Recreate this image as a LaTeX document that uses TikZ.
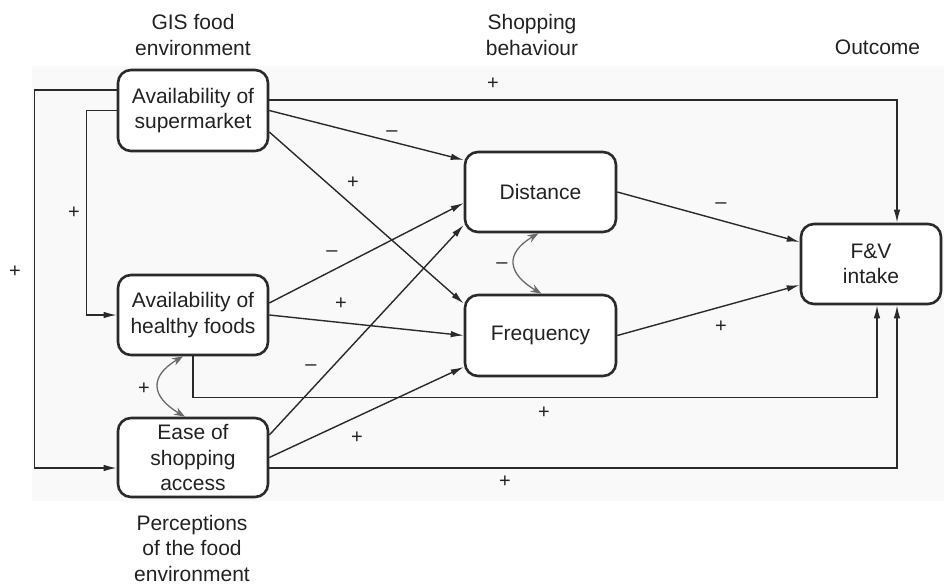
\documentclass[tikz,border=0pt]{standalone}
\usepackage{fontspec}
\setmainfont{Liberation Sans}
\usetikzlibrary{arrows.meta}
\definecolor{txt}{HTML}{222222}
\definecolor{ln}{HTML}{2A2A2A}
\definecolor{bg}{HTML}{F9F9F9}
\definecolor{cv}{HTML}{6A6A6A}
\begin{document}
\begin{tikzpicture}[x=1pt,y=-1pt,
  box/.style={draw=ln, line width=2.6pt, rounded corners=13pt, fill=white, text=txt,
    align=center, inner sep=0pt, font=\fontsize{21}{25.5}\selectfont},
  hdr/.style={text=txt, align=center, inner sep=0pt, font=\fontsize{21}{25.5}\selectfont},
  lbl/.style={text=txt, inner sep=0pt, font=\fontsize{20}{22}\selectfont},
  conn/.style={draw=ln, line width=1.4pt, -{Latex[length=13pt,width=6.5pt]}},
  cvd/.style={draw=cv, line width=1.3pt, {Stealth[length=11pt,width=8pt]}-{Stealth[length=11pt,width=8pt]}}
]
\useasboundingbox (0,0) rectangle (944,584);
\fill[bg] (32,66) rectangle (944,501);

% boxes
\node[box, minimum width=150pt, minimum height=81pt] (sup) at (193,110.5) {Availability of\\supermarket};
\node[box, minimum width=150pt, minimum height=80pt] (hea) at (193,315) {Availability of\\healthy foods};
\node[box, minimum width=150pt, minimum height=79pt] (eas) at (193,457.5) {Ease of\\shopping\\access};
\node[box, minimum width=151pt, minimum height=80pt] (dis) at (540.5,192) {Distance};
\node[box, minimum width=151pt, minimum height=81pt] (fre) at (540.5,335.5) {Frequency};
\node[box, minimum width=140pt, minimum height=80pt] (fv) at (871,264) {F\&V\\intake};

% headers
\node[hdr] (h1) at (193,35) {GIS food\\environment};
\node[hdr] (h2) at (532,35) {Shopping\\behaviour};
\node[hdr] (h3) at (877.5,47) {Outcome};
\node[hdr] (h4) at (192,548) {Perceptions\\of the food\\environment};

% connectors from supermarket
\draw[conn] ([yshift=10.5pt]sup.east) -| ([xshift=26pt]fv.north);
\draw[conn] (sup.east) -- ([yshift=32pt]dis.west);
\draw[conn] ([yshift=-21.5pt]sup.east) -- ([yshift=32pt]fre.west);
\draw[conn] ([yshift=20.5pt]sup.west) -- ++(-82,0) |- ([yshift=-10.5pt]eas.west);
\draw[conn] (sup.west) -- ++(-30,0) |- (hea.west);

% connectors from healthy foods
\draw[conn] ([yshift=12pt]hea.east) -- ([yshift=-11pt]dis.west);
\draw[conn] (hea.east) -- (fre.west);
\draw[conn] (hea.south) -- ++(0,41) -| ([xshift=6pt]fv.south);

% connectors from ease of shopping access
\draw[conn] ([yshift=22.5pt]eas.east) -- ([yshift=-33pt]dis.west);
\draw[conn] (eas.east) -- ([yshift=-31.5pt]fre.west);
\draw[conn] ([yshift=-10.5pt]eas.east) -| ([xshift=26pt]fv.south);

% shopping behaviour to outcome
\draw[conn] (dis.east) -- ([yshift=22pt]fv.west);
\draw[conn] (fre.east) -- ([yshift=-21pt]fv.west);

% correlations
\draw[cvd] ([xshift=-2pt]dis.south) .. controls +(-34,20) and +(-34,-20) .. ([xshift=1pt]fre.north);
\draw[cvd] ([xshift=-10pt]hea.south) .. controls +(-34,20) and +(-34,-20) .. ([xshift=-8pt]eas.north);

% signs
\node[lbl] (l1) at (493,84) {+};
\node[lbl] (l2) at (392,134) {–};
\node[lbl] (l3) at (353,183) {+};
\node[lbl] (l4) at (332,254) {–};
\node[lbl] (l5) at (341,304) {+};
\node[lbl] (l6) at (544,413) {+};
\node[lbl] (l7) at (311,368) {–};
\node[lbl] (l8) at (357,438) {+};
\node[lbl] (l9) at (505,482) {+};
\node[lbl] (l10) at (721,206) {–};
\node[lbl] (l11) at (721,327) {+};
\node[lbl] (l12) at (502,266) {–};
\node[lbl] (l13) at (144,389) {+};
\node[lbl] (l14) at (74,213) {+};
\node[lbl] (l15) at (15,272) {+};
\end{tikzpicture}
\end{document}
